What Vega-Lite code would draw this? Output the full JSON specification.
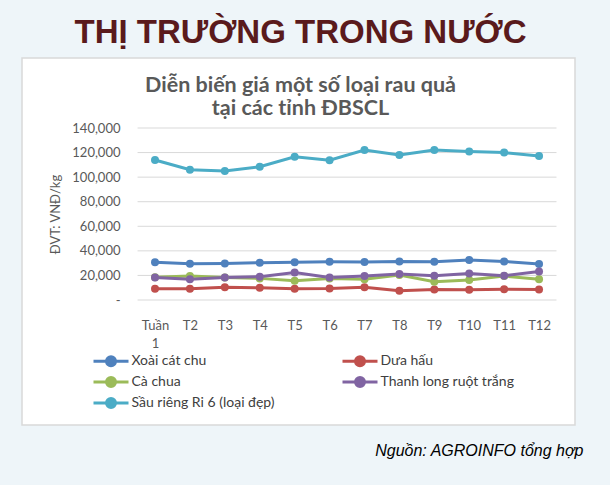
{
  "$schema": "https://vega.github.io/schema/vega-lite/v6.json",
  "width": 553,
  "height": 367,
  "autosize": {"type": "none"},
  "padding": {"left": 22, "top": 58, "right": 35, "bottom": 60},
  "background": "#eef5f9",
  "config": {
    "view": {"fill": "white", "stroke": "#d9d9d9", "strokeWidth": 1.5},
    "font": "Lato"
  },
  "title": {
    "text": "THỊ TRƯỜNG TRONG NƯỚC",
    "subtitle": ["Diễn biến giá một số loại rau quả", "tại các tỉnh ĐBSCL"],
    "anchor": "middle",
    "orient": "top",
    "offset": -61,
    "dx": 2,
    "font": "Liberation Sans",
    "fontSize": 33,
    "fontWeight": "bold",
    "color": "#5a1a1c",
    "subtitleFont": "Lato",
    "subtitleFontSize": 21.5,
    "subtitleFontWeight": "bold",
    "subtitleColor": "#595959",
    "subtitleLineHeight": 23,
    "subtitlePadding": 25
  },
  "datasets": {
    "grid": [
      {"v": 0}, {"v": 20000}, {"v": 40000}, {"v": 60000},
      {"v": 80000}, {"v": 100000}, {"v": 120000}, {"v": 140000}
    ],
    "prices": [
      {"wk": 1, "series": "Xoài cát chu", "price": 30700},
      {"wk": 2, "series": "Xoài cát chu", "price": 29600},
      {"wk": 3, "series": "Xoài cát chu", "price": 29800},
      {"wk": 4, "series": "Xoài cát chu", "price": 30400},
      {"wk": 5, "series": "Xoài cát chu", "price": 30700},
      {"wk": 6, "series": "Xoài cát chu", "price": 31100},
      {"wk": 7, "series": "Xoài cát chu", "price": 30900},
      {"wk": 8, "series": "Xoài cát chu", "price": 31400},
      {"wk": 9, "series": "Xoài cát chu", "price": 31200},
      {"wk": 10, "series": "Xoài cát chu", "price": 32600},
      {"wk": 11, "series": "Xoài cát chu", "price": 31400},
      {"wk": 12, "series": "Xoài cát chu", "price": 29300},
      {"wk": 1, "series": "Dưa hấu", "price": 9200},
      {"wk": 2, "series": "Dưa hấu", "price": 9200},
      {"wk": 3, "series": "Dưa hấu", "price": 10300},
      {"wk": 4, "series": "Dưa hấu", "price": 10000},
      {"wk": 5, "series": "Dưa hấu", "price": 9200},
      {"wk": 6, "series": "Dưa hấu", "price": 9300},
      {"wk": 7, "series": "Dưa hấu", "price": 10300},
      {"wk": 8, "series": "Dưa hấu", "price": 7600},
      {"wk": 9, "series": "Dưa hấu", "price": 8500},
      {"wk": 10, "series": "Dưa hấu", "price": 8400},
      {"wk": 11, "series": "Dưa hấu", "price": 8700},
      {"wk": 12, "series": "Dưa hấu", "price": 8600},
      {"wk": 1, "series": "Cà chua", "price": 18500},
      {"wk": 2, "series": "Cà chua", "price": 19500},
      {"wk": 3, "series": "Cà chua", "price": 18400},
      {"wk": 4, "series": "Cà chua", "price": 17600},
      {"wk": 5, "series": "Cà chua", "price": 15700},
      {"wk": 6, "series": "Cà chua", "price": 17400},
      {"wk": 7, "series": "Cà chua", "price": 16800},
      {"wk": 8, "series": "Cà chua", "price": 20300},
      {"wk": 9, "series": "Cà chua", "price": 14900},
      {"wk": 10, "series": "Cà chua", "price": 16300},
      {"wk": 11, "series": "Cà chua", "price": 19500},
      {"wk": 12, "series": "Cà chua", "price": 16800},
      {"wk": 1, "series": "Thanh long ruột trắng", "price": 18400},
      {"wk": 2, "series": "Thanh long ruột trắng", "price": 16800},
      {"wk": 3, "series": "Thanh long ruột trắng", "price": 18400},
      {"wk": 4, "series": "Thanh long ruột trắng", "price": 19000},
      {"wk": 5, "series": "Thanh long ruột trắng", "price": 22300},
      {"wk": 6, "series": "Thanh long ruột trắng", "price": 18400},
      {"wk": 7, "series": "Thanh long ruột trắng", "price": 19500},
      {"wk": 8, "series": "Thanh long ruột trắng", "price": 21200},
      {"wk": 9, "series": "Thanh long ruột trắng", "price": 19800},
      {"wk": 10, "series": "Thanh long ruột trắng", "price": 21500},
      {"wk": 11, "series": "Thanh long ruột trắng", "price": 19800},
      {"wk": 12, "series": "Thanh long ruột trắng", "price": 23200},
      {"wk": 1, "series": "Sầu riêng Ri 6 (loại đẹp)", "price": 114000},
      {"wk": 2, "series": "Sầu riêng Ri 6 (loại đẹp)", "price": 106000},
      {"wk": 3, "series": "Sầu riêng Ri 6 (loại đẹp)", "price": 105000},
      {"wk": 4, "series": "Sầu riêng Ri 6 (loại đẹp)", "price": 108500},
      {"wk": 5, "series": "Sầu riêng Ri 6 (loại đẹp)", "price": 116600},
      {"wk": 6, "series": "Sầu riêng Ri 6 (loại đẹp)", "price": 113800},
      {"wk": 7, "series": "Sầu riêng Ri 6 (loại đẹp)", "price": 122000},
      {"wk": 8, "series": "Sầu riêng Ri 6 (loại đẹp)", "price": 118000},
      {"wk": 9, "series": "Sầu riêng Ri 6 (loại đẹp)", "price": 122000},
      {"wk": 10, "series": "Sầu riêng Ri 6 (loại đẹp)", "price": 120800},
      {"wk": 11, "series": "Sầu riêng Ri 6 (loại đẹp)", "price": 120000},
      {"wk": 12, "series": "Sầu riêng Ri 6 (loại đẹp)", "price": 117200}
    ]
  },
  "layer": [
    {
      "data": {"name": "grid"},
      "mark": {"type": "rule", "color": "#d9d9d9", "strokeWidth": 1},
      "encoding": {
        "x": {"datum": 0.5, "type": "quantitative"},
        "x2": {"datum": 12.5},
        "y": {"field": "v", "type": "quantitative"}
      }
    },
    {
      "data": {"name": "prices"},
      "mark": {"type": "line", "strokeWidth": 3, "point": {"filled": true, "size": 64, "opacity": 1}},
      "encoding": {
        "x": {
          "field": "wk",
          "type": "quantitative",
          "scale": {"domain": [-2.81, 13.03], "nice": false, "zero": false},
          "axis": {
            "title": "Nguồn: AGROINFO tổng hợp",
            "titleFont": "Liberation Sans",
            "titleFontSize": 16,
            "titleFontStyle": "italic",
            "titleFontWeight": "normal",
            "titleColor": "#000000",
            "titleAlign": "right",
            "titleAnchor": null,
            "titleBaseline": "alphabetic",
            "titleX": 561,
            "titleY": 155,
            "offset": -125,
            "values": [1, 2, 3, 4, 5, 6, 7, 8, 9, 10, 11, 12],
            "domain": false,
            "ticks": false,
            "grid": false,
            "labelAngle": 0,
            "labelPadding": 19,
            "labelFontSize": 13,
            "labelColor": "#595959",
            "labelOverlap": false,
            "labelFlush": false,
            "labelExpr": "datum.value == 1 ? ['Tuần', '1'] : 'T' + datum.value",
            "labelLineHeight": 18
          }
        },
        "y": {
          "field": "price",
          "type": "quantitative",
          "scale": {"domain": [-101744, 196977], "nice": false, "zero": false},
          "axis": {
            "title": "ĐVT: VNĐ/kg",
            "titleFontSize": 13,
            "titleFontWeight": "normal",
            "titleColor": "#595959",
            "titleX": -82.5,
            "titleY": 156,
            "titleAngle": -90,
            "titleAlign": "center",
            "titleBaseline": "middle",
            "titleAnchor": null,
            "offset": -116,
            "values": [0, 20000, 40000, 60000, 80000, 100000, 120000, 140000],
            "domain": false,
            "ticks": false,
            "grid": false,
            "labelPadding": 18,
            "labelFontSize": 13,
            "labelColor": "#595959",
            "labelOverlap": false,
            "labelFlush": false,
            "labelExpr": "datum.value == 0 ? '-\u00a0\u00a0\u00a0' : format(datum.value, ',')"
          }
        },
        "color": {
          "field": "series",
          "type": "nominal",
          "sort": ["Xoài cát chu", "Dưa hấu", "Cà chua", "Thanh long ruột trắng", "Sầu riêng Ri 6 (loại đẹp)"],
          "scale": {
            "domain": ["Xoài cát chu", "Dưa hấu", "Cà chua", "Thanh long ruột trắng", "Sầu riêng Ri 6 (loại đẹp)"],
            "range": ["#4f81bd", "#c0504d", "#9bbb59", "#8064a2", "#4bacc6"]
          },
          "legend": {
            "title": null,
            "orient": "none",
            "direction": "horizontal",
            "legendX": 82,
            "legendY": 296,
            "columns": 2,
            "columnPadding": 61,
            "rowPadding": -1,
            "padding": 0,
            "symbolType": "M-3.5,0L3.5,0M0.9,0A0.9,0.9,0,1,1,-0.9,0A0.9,0.9,0,1,1,0.9,0",
            "symbolSize": 100,
            "symbolStrokeWidth": 3,
            "labelOffset": 13.5,
            "labelFontSize": 14,
            "labelColor": "#404040",
            "labelLimit": 300,
            "encode": {"symbols": {"update": {"fill": {"scale": "color", "field": "value"}}}}
          }
        },
        "order": {"value": 0}
      }
    }
  ]
}
